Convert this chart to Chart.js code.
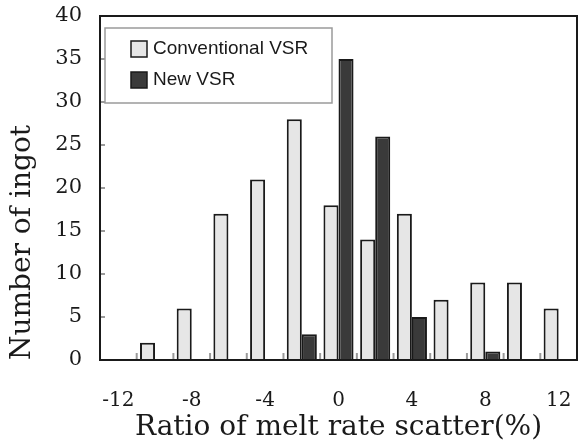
<!DOCTYPE html>
<html>
<head>
<meta charset="utf-8">
<script src="https://cdn.jsdelivr.net/npm/chart.js@4.4.0/dist/chart.umd.min.js"></script>
<style>
  html, body { margin: 0; padding: 0; background: #fff; overflow: hidden; }
  #wrap { width: 579px; height: 447px; }
</style>
</head>
<body>
<div id="wrap"><canvas id="chart"></canvas></div>
<script>
// bins of melt rate scatter (%)
const categories = ['-12', '-10', '-8', '-6', '-4', '-2', '0', '2', '4', '6', '8', '10', '12'];
const conventional = [0, 2, 6, 17, 21, 28, 18, 14, 17, 7, 9, 9, 6];
const newVsr = [0, 0, 0, 0, 0, 3, 35, 26, 5, 0, 1, 0, 0];
const yTicks = { min: 0, max: 40, step: 5 };

const serif = '"DejaVu Serif", "Liberation Serif", serif';
const ink = '#1a1a1a';

// frame, inward ticks and the legend box drawn over the plot
const decor = {
    id: 'decor',
    afterDraw(chart) {
        const { ctx, chartArea: a, scales: { x, y } } = chart;
        ctx.save();

        // short grey marks between bins
        ctx.strokeStyle = '#9a9a9a';
        ctx.lineWidth = 2;
        for (let i = 1; i < categories.length; i++) {
            const px = (x.getPixelForValue(i - 1) + x.getPixelForValue(i)) / 2;
            ctx.beginPath();
            ctx.moveTo(px, a.bottom - 7);
            ctx.lineTo(px, a.bottom);
            ctx.stroke();
        }
        // y ticks pointing inward
        y.ticks.forEach(t => {
            const py = y.getPixelForValue(t.value);
            ctx.beginPath();
            ctx.moveTo(a.left, py);
            ctx.lineTo(a.left + 5, py);
            ctx.stroke();
        });

        // outer frame
        ctx.strokeStyle = ink;
        ctx.lineWidth = 2;
        ctx.strokeRect(a.left, a.top, a.right - a.left, a.bottom - a.top);

        // legend
        const bx = a.left + 5, by = a.top + 12, bw = 227, bh = 75;
        ctx.fillStyle = '#fff';
        ctx.fillRect(bx, by, bw, bh);
        ctx.strokeStyle = '#9a9a9a';
        ctx.lineWidth = 1.5;
        ctx.strokeRect(bx, by, bw, bh);
        ctx.font = '19px "Liberation Sans", Arial, sans-serif';
        ctx.textBaseline = 'middle';
        chart.data.datasets.forEach((ds, i) => {
            const ry = by + 21 + i * 31;
            ctx.fillStyle = ds.backgroundColor;
            ctx.fillRect(bx + 26, ry - 8, 16, 16);
            ctx.strokeStyle = ink;
            ctx.lineWidth = 1.5;
            ctx.strokeRect(bx + 26, ry - 8, 16, 16);
            ctx.fillStyle = ink;
            ctx.fillText(ds.label, bx + 48, ry);
        });
        ctx.restore();
    }
};

new Chart(document.getElementById('chart'), {
    type: 'bar',
    data: {
        labels: categories,
        datasets: [
            {
                label: 'Conventional VSR',
                data: conventional,
                backgroundColor: '#e6e6e6',
                borderColor: ink,
                borderWidth: 2
            },
            {
                label: 'New VSR',
                data: newVsr,
                backgroundColor: '#3a3a3a',
                borderColor: ink,
                borderWidth: 2
            }
        ]
    },
    options: {
        responsive: true,
        maintainAspectRatio: false,
        animation: false,
        categoryPercentage: 0.82,
        barPercentage: 1,
        layout: { padding: { top: 16, right: 2, left: 0, bottom: 0 } },
        plugins: {
            legend: { display: false },
            tooltip: { enabled: false }
        },
        scales: {
            x: {
                grid: { display: false },
                border: { color: ink, width: 2 },
                ticks: {
                    autoSkip: false,
                    maxRotation: 0,
                    padding: 21,
                    color: ink,
                    font: { family: serif, size: 20 },
                    callback: (v, i) => (i % 2 === 0 ? categories[i] : '')
                },
                title: {
                    display: true,
                    text: 'Ratio of melt rate scatter(%)',
                    color: ink,
                    font: { family: serif, size: 28 },
                    padding: { top: 0, bottom: 2 }
                },
                afterFit: s => {
                    s.height = 87;
                    s.paddingLeft = 0;
                    s.paddingRight = 0;
                }
            },
            y: {
                min: yTicks.min,
                max: yTicks.max,
                grid: { display: false },
                border: { color: ink, width: 2 },
                ticks: {
                    stepSize: yTicks.step,
                    padding: 10,
                    color: ink,
                    font: { family: serif, size: 21 }
                },
                title: {
                    display: true,
                    text: 'Number of ingot',
                    align: 'start',
                    color: ink,
                    font: { family: serif, size: 28 },
                    padding: { top: 6, bottom: 0 }
                },
                afterFit: s => {
                    s.width = 100;
                    s.paddingTop = 0;
                    s.paddingBottom = 0;
                }
            }
        }
    },
    plugins: [decor]
});
</script>
</body>
</html>
